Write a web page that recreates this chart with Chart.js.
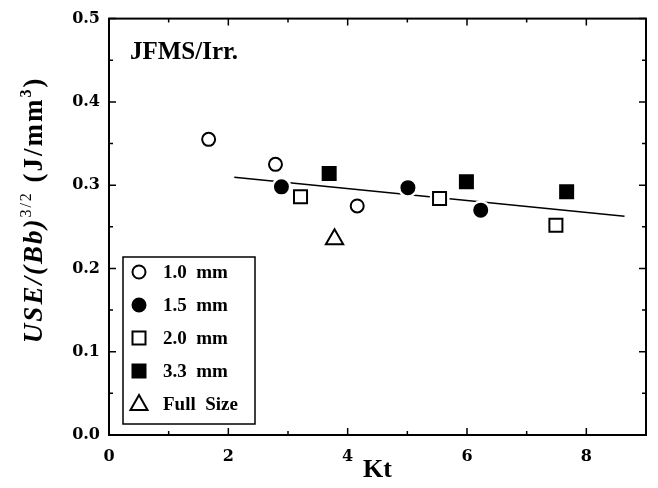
<!DOCTYPE html>
<html>
<head>
<meta charset="utf-8">
<script src="https://cdn.jsdelivr.net/npm/chart.js@4/dist/chart.umd.min.js"></script>
<style>
html, body { margin: 0; padding: 0; background: #fff; }
#wrap { width: 658px; height: 488px; }
</style>
</head>
<body>
<div id="wrap"><canvas id="chart"></canvas></div>
<script>
// values
const kt10 = [1.67, 2.79, 4.16];
const use10 = [0.355, 0.325, 0.275];
const kt15 = [2.89, 5.01, 6.23];
const use15 = [0.298, 0.297, 0.270];
const kt20 = [3.21, 5.54, 7.49];
const use20 = [0.286, 0.284, 0.252];
const kt33 = [3.69, 5.99, 7.67];
const use33 = [0.314, 0.304, 0.292];
const ktFull = [3.78];
const useFull = [0.235];
const fitKt = [2.1, 8.64];
const fitUse = [0.3095, 0.2627];

const seriesLabels = ['1.0  mm', '1.5  mm', '2.0  mm', '3.3  mm', 'Full  Size'];
const xMajor = [0, 2, 4, 6, 8];
const xMinor = [1, 3, 5, 7];
const yMajor = [0, 0.1, 0.2, 0.3, 0.4, 0.5];
const yMinor = [0.05, 0.15, 0.25, 0.35, 0.45];

const serif = "'Liberation Serif', 'Times New Roman', serif";
const tickFont = "'DejaVu Serif', serif";

function pts(xs, ys) {
    return xs.map((x, i) => ({ x: x, y: ys[i] }));
}

function drawMarker(ctx, style, filled, x, y) {
    ctx.save();
    ctx.lineWidth = 2;
    ctx.strokeStyle = '#000';
    ctx.fillStyle = filled ? '#000' : '#fff';
    ctx.beginPath();
    if (style === 'circle') {
        ctx.arc(x, y, 6.5, 0, Math.PI * 2);
    } else if (style === 'rect') {
        ctx.rect(x - 6.5, y - 6.5, 13, 13);
    } else {
        ctx.moveTo(x, y - 9);
        ctx.lineTo(x + 8.5, y + 6);
        ctx.lineTo(x - 8.5, y + 6);
        ctx.closePath();
    }
    ctx.fill();
    ctx.stroke();
    ctx.restore();
}

const markerDefs = [
    { style: 'circle', filled: false },
    { style: 'circle', filled: true },
    { style: 'rect', filled: false },
    { style: 'rect', filled: true },
    { style: 'triangle', filled: false }
];

const framePlugin = {
    id: 'frame',
    beforeDatasetDraw(chart, args) {
        // white halo under markers, so the fit line shows small gaps
        const ds = chart.data.datasets[args.index];
        if (ds.showLine) return;
        const ctx = chart.ctx;
        ctx.save();
        ctx.fillStyle = '#fff';
        args.meta.data.forEach(el => {
            ctx.beginPath();
            ctx.arc(el.x, el.y, 10, 0, Math.PI * 2);
            ctx.fill();
        });
        ctx.restore();
    },
    afterDraw(chart) {
        const ctx = chart.ctx;
        const a = chart.chartArea;
        const xs = chart.scales.x;
        const ys = chart.scales.y;

        ctx.save();
        ctx.strokeStyle = '#000';
        ctx.lineWidth = 2;
        ctx.strokeRect(a.left, a.top, a.right - a.left, a.bottom - a.top);

        // inward ticks on all four sides
        ctx.lineWidth = 1.5;
        ctx.beginPath();
        const xt = (v, len) => {
            const p = xs.getPixelForValue(v);
            ctx.moveTo(p, a.bottom); ctx.lineTo(p, a.bottom - len);
            ctx.moveTo(p, a.top); ctx.lineTo(p, a.top + len);
        };
        const yt = (v, len) => {
            const p = ys.getPixelForValue(v);
            ctx.moveTo(a.left, p); ctx.lineTo(a.left + len, p);
            ctx.moveTo(a.right, p); ctx.lineTo(a.right - len, p);
        };
        xMajor.forEach(v => xt(v, 7));
        xMinor.forEach(v => xt(v, 4));
        yMajor.forEach(v => yt(v, 7));
        yMinor.forEach(v => yt(v, 4));
        ctx.stroke();

        // plot tag
        ctx.fillStyle = '#000';
        ctx.font = 'bold 25px ' + serif;
        ctx.textAlign = 'left';
        ctx.textBaseline = 'alphabetic';
        ctx.fillText('JFMS/Irr.', a.left + 21, a.top + 40);

        // legend box
        const bx = a.left + 14, bw = 132, bh = 167;
        const by = a.bottom - 11 - bh;
        ctx.fillStyle = '#fff';
        ctx.fillRect(bx, by, bw, bh);
        ctx.lineWidth = 1.5;
        ctx.strokeRect(bx, by, bw, bh);
        ctx.font = 'bold 19px ' + serif;
        ctx.textBaseline = 'middle';
        seriesLabels.forEach((lab, i) => {
            const cy = by + 15 + i * 33;
            drawMarker(ctx, markerDefs[i].style, markerDefs[i].filled, bx + 16, cy);
            ctx.fillStyle = '#000';
            ctx.fillText(lab, bx + 40, cy + 1);
        });

        // y axis title with superscripts
        ctx.letterSpacing = '2px';
        const parts = [
            { t: 'USE/(Bb)', f: 'italic bold 27px ' + serif, dy: 0 },
            { t: '3/2', f: '16px ' + serif, dy: -11 },
            { t: ' (J/mm', f: 'bold 27px ' + serif, dy: 0 },
            { t: '3', f: 'bold 16px ' + serif, dy: -11 },
            { t: ')', f: 'bold 27px ' + serif, dy: 0 }
        ];
        let total = 0;
        parts.forEach(p => { ctx.font = p.f; p.w = ctx.measureText(p.t).width; total += p.w; });
        ctx.translate(42, (a.top + a.bottom) / 2 - 17);
        ctx.rotate(-Math.PI / 2);
        ctx.textBaseline = 'alphabetic';
        ctx.fillStyle = '#000';
        let cx = -total / 2;
        parts.forEach(p => {
            ctx.font = p.f;
            ctx.fillText(p.t, cx, p.dy);
            cx += p.w;
        });
        ctx.restore();
    }
};

const datasets = [];
[[kt10, use10], [kt15, use15], [kt20, use20], [kt33, use33], [ktFull, useFull]].forEach((s, i) => {
    const m = markerDefs[i];
    datasets.push({
        label: seriesLabels[i],
        data: pts(s[0], s[1]),
        pointStyle: m.style,
        pointRadius: m.style === 'rect' ? 9.2 : (m.style === 'triangle' ? 10 : 6.5),
        pointBorderWidth: 2,
        pointBorderColor: '#000',
        pointBackgroundColor: m.filled ? '#000' : '#fff',
        order: 0
    });
});
datasets.push({
    label: 'fit',
    data: pts(fitKt, fitUse),
    showLine: true,
    borderColor: '#000',
    borderWidth: 1.5,
    pointRadius: 0,
    order: 10
});

new Chart(document.getElementById('chart'), {
    type: 'scatter',
    data: { datasets: datasets },
    plugins: [framePlugin],
    options: {
        responsive: true,
        maintainAspectRatio: false,
        animation: false,
        layout: { padding: { top: 14, right: 9, left: 0, bottom: 0 } },
        plugins: {
            legend: { display: false },
            tooltip: { enabled: false }
        },
        scales: {
            x: {
                type: 'linear',
                min: 0,
                max: 9,
                grid: { display: false, drawTicks: false },
                border: { display: false },
                afterBuildTicks(scale) {
                    scale.ticks = xMajor.map(v => ({ value: v }));
                },
                afterFit(scale) { scale.height = 53; },
                ticks: {
                    color: '#000',
                    padding: 12,
                    font: { family: tickFont, size: 16, weight: 'bold' }
                },
                title: {
                    display: true,
                    text: 'Kt',
                    color: '#000',
                    padding: { top: 0, bottom: 2 },
                    font: { family: serif, size: 26, weight: 'bold' }
                }
            },
            y: {
                min: 0,
                max: 0.5,
                grid: { display: false, drawTicks: false },
                border: { display: false },
                afterBuildTicks(scale) {
                    scale.ticks = yMajor.map(v => ({ value: v }));
                },
                afterFit(scale) { scale.width = 109; },
                ticks: {
                    color: '#000',
                    padding: 9,
                    callback: v => v.toFixed(1),
                    font: { family: tickFont, size: 16, weight: 'bold' }
                }
            }
        }
    }
});
</script>
</body>
</html>
